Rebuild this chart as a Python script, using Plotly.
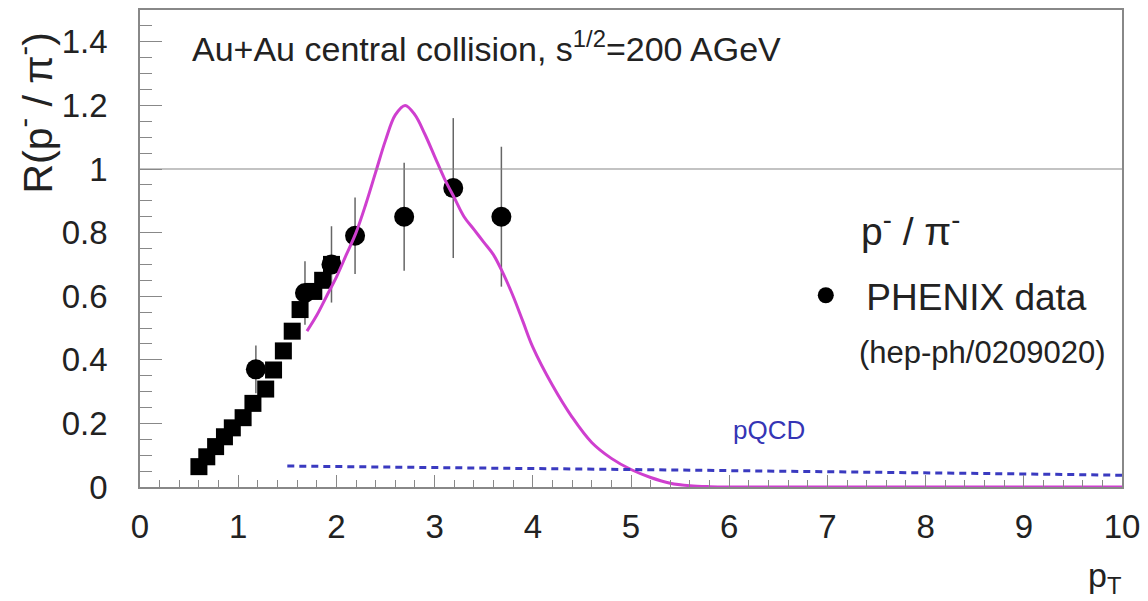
import plotly.graph_objects as go

# ---- data ----
sq_x = [0.60, 0.68, 0.77, 0.86, 0.94, 1.05, 1.15, 1.28, 1.36, 1.46, 1.55, 1.63, 1.77, 1.86, 1.95]
sq_y = [0.064, 0.095, 0.127, 0.158, 0.186, 0.218, 0.263, 0.308, 0.368, 0.428, 0.490, 0.558, 0.615, 0.650, 0.700]

ph_x = [1.18, 1.68, 1.95, 2.19, 2.69, 3.19, 3.68]
ph_y = [0.37, 0.61, 0.70, 0.79, 0.85, 0.94, 0.85]
ph_err = [0.075, 0.10, 0.12, 0.12, 0.17, 0.22, 0.22]

model_x = [1.70, 1.80, 1.90, 2.00, 2.10, 2.20, 2.30, 2.40, 2.50, 2.60, 2.70, 2.80, 2.90,
           3.00, 3.10, 3.20, 3.30, 3.40, 3.50, 3.60, 3.70, 3.80, 3.90, 4.00, 4.20, 4.40,
           4.60, 4.80, 5.00, 5.20, 5.40, 5.60, 5.80, 6.00, 7.00, 8.00, 9.00, 10.00]
model_y = [0.49, 0.54, 0.60, 0.66, 0.73, 0.80, 0.89, 0.99, 1.09, 1.17, 1.20, 1.17, 1.11,
           1.04, 0.97, 0.91, 0.85, 0.81, 0.77, 0.73, 0.67, 0.60, 0.52, 0.44, 0.32, 0.22,
           0.14, 0.09, 0.055, 0.030, 0.012, 0.004, 0.001, 0.0, 0.0, 0.0, 0.0, 0.0]

pqcd_x = [1.5, 2, 3, 4, 5, 6, 7, 8, 9, 10]
pqcd_y = [0.066, 0.064, 0.061, 0.058, 0.055, 0.052, 0.048, 0.044, 0.041, 0.037]

x_ticks = [0, 1, 2, 3, 4, 5, 6, 7, 8, 9, 10]
y_ticks = [0, 0.2, 0.4, 0.6, 0.8, 1, 1.2, 1.4]
y_tick_text = ["0", "0.2", "0.4", "0.6", "0.8", "1", "1.2", "1.4"]

FONT = "Liberation Sans"
TXT = "#222222"

fig = go.Figure()

fig.add_trace(go.Scatter(
    x=ph_x, y=ph_y, mode="markers", name="\u00a0\u00a0PHENIX data",
    marker=dict(symbol="circle", size=20, color="black"),
    error_y=dict(type="data", array=ph_err, visible=True, width=0, thickness=1.5, color="#666666"),
    showlegend=True))

fig.add_trace(go.Scatter(
    x=sq_x, y=sq_y, mode="markers",
    marker=dict(symbol="square", size=17, color="black"),
    showlegend=False))

fig.add_trace(go.Scatter(
    x=model_x, y=model_y, mode="lines",
    line=dict(color="#cf3fcf", width=3, shape="spline", smoothing=1.0),
    showlegend=False))

fig.add_trace(go.Scatter(
    x=pqcd_x, y=pqcd_y, mode="lines",
    line=dict(color="#3a3ac0", width=3, dash="7px,5px"),
    showlegend=False))

fig.add_hline(y=1, line=dict(color="#888888", width=1.2))

axis_common = dict(
    showgrid=False, zeroline=False, showline=True, linecolor="#888888", linewidth=1.5,
    mirror=True, ticks="inside", tickcolor="#888888")

fig.update_xaxes(range=[0, 10], tickvals=x_ticks, ticklen=12, tickwidth=1.2,
                 ticklabelstandoff=10, tickfont=dict(family=FONT, size=33, color=TXT),
                 minor=dict(dtick=0.2, ticks="inside", ticklen=7, tickcolor="#888888", tickwidth=1),
                 **axis_common)
fig.update_yaxes(range=[0, 1.5], tickvals=y_ticks, ticktext=y_tick_text, ticklen=22, tickwidth=1.2,
                 ticklabelstandoff=24, tickfont=dict(family=FONT, size=33, color=TXT),
                 minor=dict(dtick=0.05, ticks="inside", ticklen=12, tickcolor="#888888", tickwidth=1),
                 **axis_common)

annotations = [
    dict(text="Au+Au central collision, s<sup>1/2</sup>=200 AGeV", x=0.051, y=0.923,
         xref="paper", yref="paper", xanchor="left", yanchor="middle", showarrow=False,
         font=dict(family=FONT, size=34, color=TXT)),
    dict(text="R(p<sup>-</sup> / π<sup>-</sup>)", x=-0.108, y=0.785, textangle=-90,
         xref="paper", yref="paper", xanchor="center", yanchor="middle", showarrow=False,
         font=dict(family=FONT, size=41, color=TXT)),
    dict(text="p<sup>-</sup> / π<sup>-</sup>", x=0.7325, y=0.541,
         xref="paper", yref="paper", xanchor="left", yanchor="middle", showarrow=False,
         font=dict(family=FONT, size=39, color=TXT)),
    dict(text="(hep-ph/0209020)", x=0.730, y=0.282,
         xref="paper", yref="paper", xanchor="left", yanchor="middle", showarrow=False,
         font=dict(family=FONT, size=31, color=TXT)),
    dict(text="pQCD", x=0.641, y=0.119,
         xref="paper", yref="paper", xanchor="center", yanchor="middle", showarrow=False,
         font=dict(family=FONT, size=26, color="#3535b5")),
    dict(text="p<sub>T</sub>", x=0.982, y=-0.19,
         xref="paper", yref="paper", xanchor="center", yanchor="middle", showarrow=False,
         font=dict(family=FONT, size=34, color=TXT)),
]

fig.update_layout(
    width=1148, height=601,
    margin=dict(l=140, r=25, t=8, b=114),
    paper_bgcolor="white", plot_bgcolor="white",
    annotations=annotations,
    legend=dict(x=0.678, y=0.401, xanchor="left", yanchor="middle",
                bgcolor="rgba(0,0,0,0)", font=dict(family=FONT, size=37, color=TXT)),
)

fig.write_html("out.html")
